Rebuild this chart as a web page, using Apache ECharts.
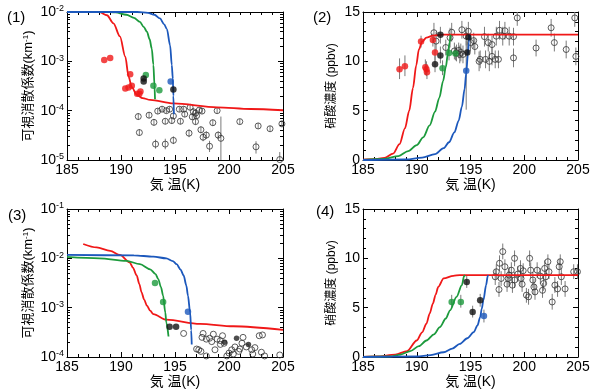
<!DOCTYPE html>
<html><head><meta charset="utf-8">
<script src="https://cdn.jsdelivr.net/npm/echarts@6/dist/echarts.min.js"></script>
<style>html,body{margin:0;padding:0;background:#fff}#c{width:600px;height:392px}</style>
</head><body><div id="c"></div>
<script>
// ---------- tick / axis ranges ----------
const xTicks = [185, 190, 195, 200, 205];
const linTicks = [0, 5, 10, 15];
const log1Range = [1e-5, 1e-2];
const log3Range = [1e-4, 1e-1];
const panelLabels = ['(1)', '(2)', '(3)', '(4)'];
const xName = '気 温(K)';
const extName = '可視消散係数(km{s|-1})';
const hno3Name = '硝酸濃度 (ppbv)';

// ---------- panel 1 (extinction, log) ----------
const p1Red = [[185,1e-2],[187,1e-2],[188,9.9e-3],[188.7,8.6e-3],[189.3,5.9e-3],[189.9,3.2e-3],[190.4,1.24e-3],[190.7,4.9e-4],[191.0,3.0e-4],[191.45,2.1e-4],[192.0,1.8e-4],[192.7,1.65e-4],[194.85,1.4e-4],[198.9,1.17e-4],[202,1.08e-4],[205,1.02e-4]];
const p1Green = [[185,1e-2],[188.5,1e-2],[189.5,9.8e-3],[190.5,8.8e-3],[191.2,7.6e-3],[191.75,6.3e-3],[192.1,5.0e-3],[192.4,4.0e-3],[192.65,2.8e-3],[192.85,1.8e-3],[193.0,8.5e-4],[193.1,3.3e-4],[193.15,1.7e-4]];
const p1Blue = [[185,1e-2],[191.5,1e-2],[192.5,9.6e-3],[193.1,8.8e-3],[193.6,7.4e-3],[194.0,5.6e-3],[194.25,4.5e-3],[194.55,2.1e-3],[194.7,8.5e-4],[194.8,4.4e-4],[194.85,2e-4],[194.9,8.5e-5]];
const p1RedPts = [[188.45,1.07e-3],[189.0,1.17e-3],[190.85,5.5e-4],[190.4,2.8e-4],[190.7,2.95e-4],[191.0,3.2e-4],[191.5,2.2e-4],[191.7,2.2e-4],[191.8,2.45e-4]];
const p1GreenPts = [[192.3,5.3e-4],[193.0,3.2e-4],[193.55,2.6e-4]];
const p1BluePts = [[194.6,3.9e-4]];
const p1BlackPts = [[192.1,4.5e-4],[192.1,3.9e-4],[194.85,2.7e-4]];
const p1Open = [
 [191.6,7.6e-5,6.5e-5,8.9e-5],[191.7,3.6e-5,3.1e-5,4.2e-5],[192.6,8.1e-5,7.0e-5,9.4e-5],[193.05,5.8e-5,5.0e-5,6.8e-5],
 [193.2,2.1e-5,1.7e-5,2.6e-5],[193.4,9.8e-5,8.6e-5,1.12e-4],[193.8,1.07e-4,9.4e-5,1.22e-4],[194.1,6.1e-5,5.3e-5,7.0e-5],
 [194.2,1.0e-4,8.8e-5,1.14e-4],[194.1,2.1e-5,1.65e-5,2.7e-5],[194.5,1.07e-4,9.4e-5,1.22e-4],[194.7,6.3e-5,5.4e-5,7.3e-5],
 [194.85,7.8e-5,6.8e-5,9.0e-5],[194.85,2.5e-5,2.1e-5,3.0e-5],[195.4,1.07e-4,9.4e-5,1.22e-4],[195.5,6.1e-5,5.3e-5,7.0e-5],
 [195.8,1.07e-4,9.4e-5,1.22e-4],[195.9,8.5e-5,7.4e-5,9.8e-5],[196.3,3.5e-5,2.9e-5,4.2e-5],[196.4,1.17e-4,1.02e-4,1.34e-4],
 [196.6,7.5e-5,6.5e-5,8.7e-5],[196.7,9.5e-5,8.0e-5,1.12e-4],[196.9,8.9e-5,7.5e-5,1.06e-4],[197.0,7.9e-5,6.8e-5,9.2e-5],
 [196.9,6.0e-5,5.2e-5,6.9e-5],[197.25,1.03e-4,9.0e-5,1.18e-4],[197.5,9.8e-5,8.6e-5,1.12e-4],[197.4,4.1e-5,3.5e-5,4.8e-5],
 [197.6,2.9e-5,2.4e-5,3.5e-5],[197.9,3.2e-5,2.7e-5,3.8e-5],[198.2,1.9e-5,1.45e-5,2.45e-5],[198.5,5.7e-5,4.9e-5,6.6e-5],
 [198.9,1.0e-4,8.8e-5,1.14e-4],[199.0,3.2e-5,2.7e-5,3.8e-5],[199.25,2.75e-5,1.0e-5,7.6e-5],[201.0,6.0e-5,5.3e-5,6.8e-5],
 [202.7,4.9e-5,4.3e-5,5.6e-5],[202.5,1.85e-5,1.35e-5,2.4e-5],[203.8,4.3e-5,3.8e-5,4.9e-5],[204.9,5.4e-5,4.7e-5,6.2e-5],
 [204.7,1.02e-5,1.0e-5,1.45e-5]
];

// ---------- panel 2 (HNO3, linear) ----------
const p2Red = [[185,0.03],[186,0.08],[187,0.22],[187.8,0.65],[188.4,1.6],[188.9,3.2],[189.3,5.0],[189.65,7.3],[189.95,9.6],[190.2,11.2],[190.5,12.0],[190.9,12.4],[191.5,12.6],[192.5,12.7],[205,12.7]];
const p2Green = [[185,0.02],[187,0.12],[188.3,0.4],[189.2,0.9],[190,1.5],[190.6,2.3],[191.2,3.5],[191.7,4.9],[192.1,6.3],[192.45,8.0],[192.7,9.4],[192.9,10.8],[193.05,11.9],[193.15,12.7]];
const p2Blue = [[185,0.0],[189,0.05],[190.5,0.25],[191.7,0.6],[192.5,1.2],[193.0,1.8],[193.5,2.8],[193.9,4.0],[194.2,5.4],[194.45,7.2],[194.6,8.8],[194.75,10.6],[194.85,11.9],[194.9,12.7]];
const p2RedPts = [[188.4,9.2,8.2,10.3],[188.9,9.5,8.5,10.6],[190.4,12.0,11.4,12.6],[191.5,12.15,11.5,12.8],[190.8,9.4,8.6,10.2],[190.9,9.2,8.5,10.0],[190.95,8.9,8.2,9.7],[191.7,10.9,10.0,11.8]];
const p2BlackPts = [[191.7,9.7,8.9,10.6],[192.2,12.7,11.8,13.5],[192.2,10.6,9.8,11.5],[194.8,12.45,11.6,13.3],[194.7,10.9,10.0,11.8]];
const p2GreenPts = [[192.4,9.3,8.6,10.1],[193.0,10.85,10.1,11.6],[193.6,10.8,10.1,11.5]];
const p2BluePts = [[194.6,9.05,5.1,12.1]];
const p2Open = [
 [191.6,12.9,11.9,13.9],[191.8,12.05,11.1,13.0],[192.7,11.4,10.6,12.2],[193.1,12.4,11.4,13.4],[193.25,12.95,12.0,13.9],
 [193.5,11.05,10.2,11.9],[193.7,10.85,10.0,11.7],[193.9,11.1,10.3,11.9],[194.0,10.7,9.8,11.6],[194.1,10.9,10.0,11.8],
 [194.2,13.2,12.3,14.1],[194.3,10.7,9.8,11.6],[194.6,12.55,11.6,13.5],[194.8,13.05,12.1,14.0],[195.0,11.9,11.0,12.8],
 [195.3,12.1,11.3,12.9],[195.4,11.5,10.7,12.3],[195.8,10.0,9.0,11.0],[195.9,10.2,9.3,11.1],[196.3,12.5,11.5,13.5],
 [196.4,10.2,9.3,11.1],[196.65,11.9,11.0,12.8],[196.75,10.0,9.0,11.0],[197.0,10.5,9.6,11.4],[197.0,11.7,10.8,12.6],
 [197.3,10.2,9.3,11.1],[197.4,12.55,11.6,13.5],[197.6,10.2,9.3,11.1],[197.7,13.15,12.2,14.1],[198.0,12.55,11.6,13.5],
 [198.2,13.1,12.2,14.0],[198.6,12.55,11.6,13.5],[199.0,10.35,9.4,11.3],[199.0,12.5,11.6,13.4],[199.35,14.4,13.6,15.0],
 [201.1,11.35,10.5,12.2],[202.5,13.4,12.5,14.3],[202.8,11.9,11.0,12.8],[203.9,11.2,10.3,12.1],[204.7,14.4,13.5,15.0],
 [204.8,10.5,9.6,11.4]
];

// ---------- panel 3 (extinction, log) ----------
const p3Red = [[186.5,1.95e-2],[187.75,1.66e-2],[189,1.42e-2],[189.9,1.17e-2],[190.8,8.3e-3],[191.1,6.5e-3],[191.45,4.5e-3],[191.7,3.0e-3],[191.9,2.05e-3],[192.15,1.45e-3],[192.4,1.1e-3],[192.7,8.7e-4],[193,7.4e-4],[194.2,5.7e-4],[197.3,4.7e-4],[200.4,4.2e-4],[205,3.55e-4]];
const p3Green = [[185,1.07e-2],[188,1.0e-2],[190.5,8.9e-3],[191.75,7.6e-3],[192.7,6.0e-3],[193.2,4.8e-3],[193.45,3.8e-3],[193.7,2.6e-3],[193.9,1.75e-3],[194.1,8e-4],[194.2,5e-4],[194.4,2.6e-4]];
const p3Blue = [[185,1.17e-2],[191.2,1.15e-2],[193,1.08e-2],[194.2,1.0e-2],[194.8,8.8e-3],[195.15,7.6e-3],[195.5,6e-3],[195.8,4.5e-3],[196.05,2.8e-3],[196.2,1.75e-3],[196.4,8e-4],[196.5,3.5e-4],[196.55,1.8e-4]];
const p3GreenPts = [[193.15,3.15e-3],[193.9,1.3e-3]];
const p3BluePts = [[196.2,8.3e-4]];
const p3BlackPts = [[194.5,4.1e-4],[195.1,4.1e-4]];
const p3BlackSmall = [[199.6,2.0e-4],[200.7,2.4e-4],[201.8,1.8e-4]];
const p3Open = [
 [195.8,3.0e-4],[197.0,1.45e-4],[197.2,1.4e-4],[197.4,1.3e-4],[197.6,3.0e-4],[197.5,2.5e-4],[197.9,2.3e-4],[198.2,2.4e-4],
 [198.4,2.05e-4],[198.55,2.9e-4],[198.7,1.4e-4],[198.9,2.3e-4],[199.2,2.15e-4],[199.2,1.8e-4],[199.4,2.7e-4],[199.55,1.9e-4],
 [200.0,1.2e-4],[200.25,1.4e-4],[200.4,1.15e-4],[200.55,1.6e-4],[200.9,1.3e-4],[201.0,1.45e-4],[201.2,1.9e-4],
 [201.3,2.5e-4],[201.6,1.6e-4],[202.1,1.4e-4],[202.2,1.15e-4],[202.4,1.55e-4],[202.8,2.7e-4],[203.1,2.8e-4],[203.0,1.25e-4],
 [204.7,1.1e-4],[197.9,1.05e-4],[199.8,1.05e-4],[203.3,1.05e-4]
];

// ---------- panel 4 (HNO3, linear) ----------
const p4Red = [[185,0.0],[186.3,0.05],[188,0.25],[189.1,0.6],[190,1.67],[190.5,2.5],[190.9,3.37],[191.2,4.4],[191.5,5.4],[191.75,6.3],[192.0,7.1],[192.5,7.96],[193.4,8.23],[194,8.3],[205,8.3]];
const p4Green = [[185,0.0],[187.5,0.05],[188.5,0.25],[189.4,0.6],[190.2,1.1],[190.9,1.67],[191.6,2.3],[192.15,3.03],[192.7,3.9],[193.1,4.73],[193.7,6.1],[194.2,7.28],[194.4,8.2],[194.5,8.3]];
const p4Blue = [[185,0.0],[190,0.05],[191.3,0.2],[192.5,0.48],[193.3,0.85],[194.0,1.33],[194.7,1.9],[195.3,2.52],[195.65,3.2],[195.9,4.05],[196.05,4.9],[196.2,5.75],[196.45,7.28],[196.6,8.2],[196.65,8.3]];
const p4GreenPts = [[193.25,5.58,5.0,6.3],[194.1,5.58,5.0,6.3]];
const p4BlackPts = [[194.65,7.6,7.0,8.2],[195.2,4.56,4.0,5.2],[195.9,5.75,5.1,6.4]];
const p4BluePts = [[196.25,4.15,3.5,4.8]];
const p4Open = [
 [197.3,8.13,7.3,8.9],[197.4,8.64,7.9,9.4],[197.65,6.84,6.1,7.6],[197.7,9.5,8.7,10.3],[197.85,7.96,7.2,8.7],
 [198.0,10.68,9.9,11.5],[198.2,9.15,8.4,9.9],[198.4,7.38,6.6,8.2],[198.5,7.96,7.2,8.7],[198.6,8.3,7.5,9.1],
 [198.8,8.8,8.0,9.6],[198.9,7.28,6.5,8.1],[199.1,10.0,9.2,10.8],[199.1,7.8,7.0,8.6],[199.4,8.4,7.6,9.2],
 [199.65,8.98,8.2,9.8],[199.7,7.96,7.2,8.7],[199.8,7.38,6.6,8.2],[199.9,8.74,8.0,9.5],[200.2,6.27,5.5,7.0],
 [200.4,6.1,5.3,6.9],[200.5,10.0,9.2,10.8],[200.6,8.8,8.0,9.6],[200.8,7.8,7.0,8.6],[200.9,7.1,6.3,7.9],
 [201.0,6.6,5.8,7.4],[201.2,8.8,8.0,9.6],[201.5,8.2,7.4,9.0],[201.7,6.76,6.0,7.5],[201.8,7.45,6.7,8.2],
 [201.9,8.98,8.2,9.8],[202.0,8.13,7.3,8.9],[202.2,9.66,8.9,10.4],[202.3,8.64,7.9,9.4],[202.6,5.58,4.8,6.4],
 [202.85,7.28,6.5,8.1],[203.1,6.9,6.1,7.7],[203.25,9.15,8.4,9.9],[203.35,9.66,8.9,10.4],[203.45,8.13,7.3,8.9],
 [203.8,6.9,6.1,7.7],[204.6,8.64,7.9,9.4],[204.95,8.64,7.9,9.4]
];

// ---------- styling ----------
const FONT = "'Liberation Sans', 'Noto Sans CJK JP', sans-serif";
const RED = '#f01818', GREEN = '#1c9a3c', BLUE = '#1c58bc', BLACK = '#111';
const ERR = '#7a7a7a';
const grids = [
  {left: 67, top: 12, width: 216, height: 148},
  {left: 363, top: 12, width: 215, height: 148},
  {left: 67, top: 209, width: 216, height: 148},
  {left: 363, top: 209, width: 215, height: 148}
];
const xAxis = [], yAxis = [], series = [];

function addX(g) {
  const base = {type: 'value', gridIndex: g, min: xTicks[0], max: xTicks[xTicks.length - 1], interval: 5,
    axisLine: {show: true, onZero: false, lineStyle: {color: '#000', width: 1}},
    axisTick: {show: true, inside: true, length: 5, lineStyle: {color: '#000'}},
    minorTick: {show: true, splitNumber: 5, length: 3, lineStyle: {color: '#000'}},
    splitLine: {show: false}};
  const i = xAxis.length;
  xAxis.push(Object.assign({}, base, {position: 'bottom',
    axisLabel: {fontSize: 14, color: '#000', margin: 3, fontFamily: FONT},
    name: xName, nameLocation: 'middle', nameGap: 16,
    nameTextStyle: {fontSize: 14, color: '#000', fontFamily: FONT}}));
  xAxis.push(Object.assign({}, base, {position: 'top', axisLabel: {show: false}}));
  return i;
}
function addYLin(g, name, gap, fs) {
  const base = {type: 'value', gridIndex: g, min: linTicks[0], max: linTicks[linTicks.length - 1], interval: 5,
    axisLine: {show: true, onZero: false, lineStyle: {color: '#000', width: 1}},
    axisTick: {show: true, inside: true, length: 5, lineStyle: {color: '#000'}},
    minorTick: {show: true, splitNumber: 5, length: 3, lineStyle: {color: '#000'}},
    splitLine: {show: false}};
  const i = yAxis.length;
  yAxis.push(Object.assign({}, base, {position: 'left',
    axisLabel: {fontSize: 14, color: '#000', margin: 3, fontFamily: FONT},
    name: name, nameLocation: 'middle', nameGap: gap, nameRotate: 90,
    nameTextStyle: {fontSize: fs, color: '#000', fontFamily: FONT}}));
  yAxis.push(Object.assign({}, base, {position: 'right', axisLabel: {show: false}}));
  return i;
}
function addYLog(g, range, name, gap, fs) {
  const base = {type: 'log', logBase: 10, gridIndex: g, min: range[0], max: range[1],
    axisLine: {show: true, onZero: false, lineStyle: {color: '#000', width: 1}},
    axisTick: {show: true, inside: true, length: 5, lineStyle: {color: '#000'}},
    minorTick: {show: false}, splitLine: {show: false}};
  const i = yAxis.length;
  yAxis.push(Object.assign({}, base, {position: 'left',
    axisLabel: {fontSize: 14, color: '#000', margin: 3, fontFamily: FONT,
      formatter: v => '10{s|' + Math.round(Math.log10(v)) + '}',
      rich: {s: {fontSize: 9, fontFamily: FONT, color: '#000', verticalAlign: 'top', padding: [0, 0, 6, 0]}}},
    name: name, nameLocation: 'middle', nameGap: gap, nameRotate: 90,
    nameTextStyle: {fontSize: fs, color: '#000', fontFamily: FONT,
      rich: {s: {fontSize: 8, fontFamily: FONT, color: '#000', verticalAlign: 'top', padding: [0, 0, 5, 0]}}}}));
  yAxis.push(Object.assign({}, base, {position: 'right', axisLabel: {show: false}}));
  // minor ticks (2..9 per decade) on a companion linear axis in log10 space
  const lo = Math.round(Math.log10(range[0])), hi = Math.round(Math.log10(range[1]));
  const minor = [];
  for (let e = lo; e < hi; e++) for (let k = 2; k <= 9; k++) minor.push(Math.log10(k) + e);
  ['left', 'right'].forEach(pos => yAxis.push({type: 'value', gridIndex: g, min: lo, max: hi, position: pos,
    axisLine: {show: false}, axisLabel: {show: false}, splitLine: {show: false},
    axisTick: {show: true, inside: true, length: 3, customValues: minor, lineStyle: {color: '#000'}}}));
  return i;
}

function errSeries(data, xi, yi, color) {
  return {type: 'custom', xAxisIndex: xi, yAxisIndex: yi, data: data, silent: true, z: 2,
    renderItem: (params, api) => {
      const x = api.value(0);
      const a = api.coord([x, api.value(2)]), b = api.coord([x, api.value(3)]);
      return {type: 'line', shape: {x1: a[0], y1: a[1], x2: b[0], y2: b[1]},
        style: {stroke: color, lineWidth: 1}};
    }};
}
function openSeries(data, xi, yi, size) {
  return {type: 'scatter', xAxisIndex: xi, yAxisIndex: yi, data: data, symbol: 'circle', symbolSize: size || 6,
    silent: true, z: 3, itemStyle: {color: 'rgba(255,255,255,0)', borderColor: '#333', borderWidth: 1}};
}
function dotSeries(data, xi, yi, color, size) {
  return {type: 'scatter', xAxisIndex: xi, yAxisIndex: yi, data: data, symbol: 'circle', symbolSize: size || 6.5,
    silent: true, z: 5, itemStyle: {color: color}};
}
function curve(data, xi, yi, color) {
  return {type: 'line', xAxisIndex: xi, yAxisIndex: yi, data: data, showSymbol: false, silent: true, z: 4,
    smooth: 0.3, smoothMonotone: 'x', lineStyle: {color: color, width: 1.8}};
}

// panel 1
let xi = addX(0), yi = addYLog(0, log1Range, extName, 32, 13);
series.push(errSeries(p1Open, xi, yi, ERR), openSeries(p1Open, xi, yi),
  curve(p1Red, xi, yi, RED), curve(p1Green, xi, yi, GREEN), curve(p1Blue, xi, yi, BLUE),
  dotSeries(p1RedPts, xi, yi, RED), dotSeries(p1GreenPts, xi, yi, GREEN),
  dotSeries(p1BluePts, xi, yi, BLUE), dotSeries(p1BlackPts, xi, yi, BLACK));
// panel 2
xi = addX(1); yi = addYLin(1, hno3Name, 25, 12);
series.push(errSeries(p2Open, xi, yi, ERR), openSeries(p2Open, xi, yi),
  errSeries(p2RedPts.concat(p2BlackPts, p2GreenPts, p2BluePts), xi, yi, ERR),
  curve(p2Red, xi, yi, RED), curve(p2Green, xi, yi, GREEN), curve(p2Blue, xi, yi, BLUE),
  dotSeries(p2RedPts, xi, yi, RED), dotSeries(p2BlackPts, xi, yi, BLACK),
  dotSeries(p2GreenPts, xi, yi, GREEN), dotSeries(p2BluePts, xi, yi, BLUE));
// panel 3
xi = addX(2); yi = addYLog(2, log3Range, extName, 32, 13);
series.push(openSeries(p3Open, xi, yi),
  curve(p3Red, xi, yi, RED), curve(p3Green, xi, yi, GREEN), curve(p3Blue, xi, yi, BLUE),
  dotSeries(p3GreenPts, xi, yi, GREEN), dotSeries(p3BluePts, xi, yi, BLUE),
  dotSeries(p3BlackPts, xi, yi, BLACK), dotSeries(p3BlackSmall, xi, yi, '#222', 5.5));
// panel 4
xi = addX(3); yi = addYLin(3, hno3Name, 25, 12);
series.push(errSeries(p4Open, xi, yi, ERR), openSeries(p4Open, xi, yi),
  errSeries(p4GreenPts.concat(p4BlackPts, p4BluePts), xi, yi, ERR),
  curve(p4Red, xi, yi, RED), curve(p4Green, xi, yi, GREEN), curve(p4Blue, xi, yi, BLUE),
  dotSeries(p4GreenPts, xi, yi, GREEN), dotSeries(p4BlackPts, xi, yi, BLACK),
  dotSeries(p4BluePts, xi, yi, BLUE));

const labelPos = [[7, 18], [313, 18.5], [8, 216.5], [316, 212]];
const graphic = panelLabels.map((t, i) => ({type: 'text', left: labelPos[i][0], top: labelPos[i][1] - 8,
  style: {text: t, font: '15px ' + FONT, fill: '#000'}}));

const chart = echarts.init(document.getElementById('c'), null, {renderer: 'canvas'});
chart.setOption({animation: false, backgroundColor: '#fff', grid: grids, xAxis: xAxis, yAxis: yAxis,
  series: series, graphic: graphic});
</script></body></html>
